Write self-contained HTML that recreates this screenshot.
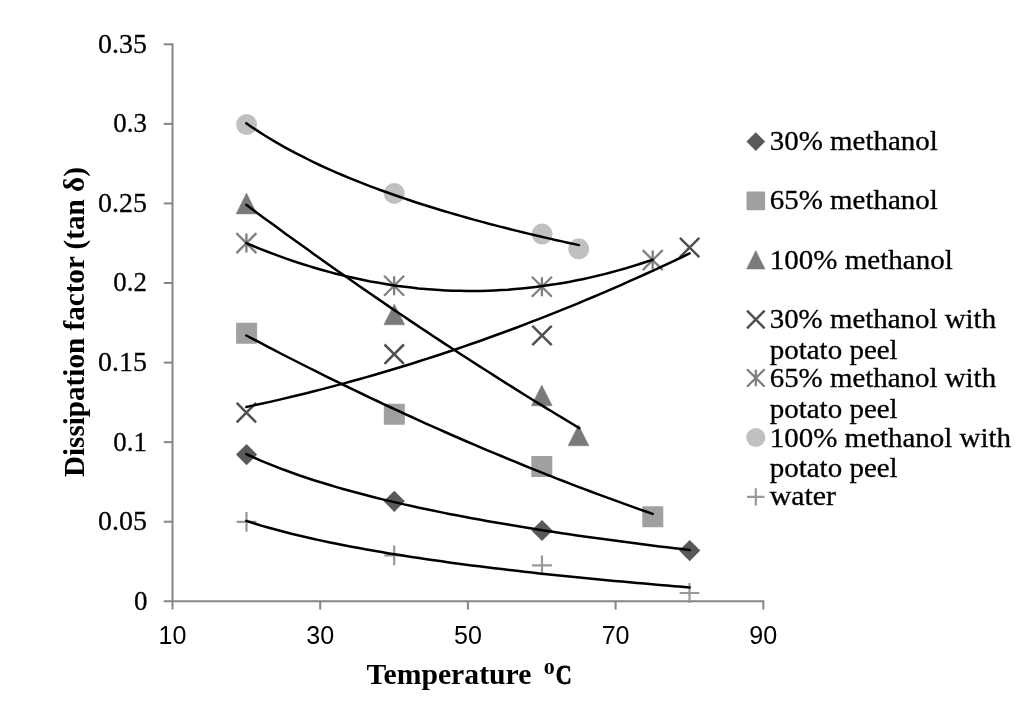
<!DOCTYPE html>
<html lang="en"><head><meta charset="utf-8"><title>Dissipation factor vs temperature</title>
<style>html,body{margin:0;padding:0;background:#fff}svg{display:block}.ser{font-family:"Liberation Serif",serif;fill:#000}.san{font-family:"Liberation Sans",sans-serif;fill:#000}</style></head><body>
<svg width="1024" height="711" viewBox="0 0 1024 711">
<rect width="1024" height="711" fill="#fff"/>
<g stroke="#868686" stroke-width="2" fill="none">
<path d="M172.5 43.3V609.6"/>
<path d="M163.8 601.3H764.3"/>
<path d="M163.8 521.73H172.5"/>
<path d="M163.8 442.16H172.5"/>
<path d="M163.8 362.59H172.5"/>
<path d="M163.8 283.02H172.5"/>
<path d="M163.8 203.45H172.5"/>
<path d="M163.8 123.88H172.5"/>
<path d="M163.8 44.31H172.5"/>
<path d="M320.20 601.3V609.6"/>
<path d="M467.90 601.3V609.6"/>
<path d="M615.60 601.3V609.6"/>
<path d="M763.30 601.3V609.6"/>
</g>
<text class="ser" x="147.5" y="610.1" font-size="27.8" text-anchor="end" stroke="#000" stroke-width="0.3" textLength="13.5" lengthAdjust="spacingAndGlyphs">0</text>
<text class="ser" x="146.9" y="530.1" font-size="27.8" text-anchor="end" stroke="#000" stroke-width="0.3" textLength="48.8" lengthAdjust="spacingAndGlyphs">0.05</text>
<text class="ser" x="146.9" y="450.5" font-size="27.8" text-anchor="end" stroke="#000" stroke-width="0.3" textLength="33.6" lengthAdjust="spacingAndGlyphs">0.1</text>
<text class="ser" x="146.9" y="370.9" font-size="27.8" text-anchor="end" stroke="#000" stroke-width="0.3" textLength="48.8" lengthAdjust="spacingAndGlyphs">0.15</text>
<text class="ser" x="146.9" y="291.4" font-size="27.8" text-anchor="end" stroke="#000" stroke-width="0.3" textLength="33.6" lengthAdjust="spacingAndGlyphs">0.2</text>
<text class="ser" x="146.9" y="211.8" font-size="27.8" text-anchor="end" stroke="#000" stroke-width="0.3" textLength="48.8" lengthAdjust="spacingAndGlyphs">0.25</text>
<text class="ser" x="146.9" y="132.2" font-size="27.8" text-anchor="end" stroke="#000" stroke-width="0.3" textLength="33.6" lengthAdjust="spacingAndGlyphs">0.3</text>
<text class="ser" x="146.9" y="52.7" font-size="27.8" text-anchor="end" stroke="#000" stroke-width="0.3" textLength="48.8" lengthAdjust="spacingAndGlyphs">0.35</text>
<text class="san" x="172.5" y="644.3" font-size="25.2" text-anchor="middle" textLength="27.9" lengthAdjust="spacingAndGlyphs">10</text>
<text class="san" x="320.2" y="644.3" font-size="25.2" text-anchor="middle" textLength="27.9" lengthAdjust="spacingAndGlyphs">30</text>
<text class="san" x="467.9" y="644.3" font-size="25.2" text-anchor="middle" textLength="27.9" lengthAdjust="spacingAndGlyphs">50</text>
<text class="san" x="615.6" y="644.3" font-size="25.2" text-anchor="middle" textLength="27.9" lengthAdjust="spacingAndGlyphs">70</text>
<text class="san" x="763.3" y="644.3" font-size="25.2" text-anchor="middle" textLength="27.9" lengthAdjust="spacingAndGlyphs">90</text>
<text class="ser" font-weight="bold" font-size="28.4" x="366.4" y="684" textLength="165" lengthAdjust="spacingAndGlyphs">Temperature</text>
<text class="ser" font-weight="bold" font-size="17.4" x="543.7" y="674.1" textLength="11" lengthAdjust="spacingAndGlyphs">0</text>
<text class="ser" font-weight="bold" font-size="27.2" x="555.7" y="683.7" textLength="16" stroke="#000" stroke-width="0.8" stroke-linejoin="round" lengthAdjust="spacingAndGlyphs">C</text>
<text class="ser" font-weight="bold" font-size="28.6" transform="translate(84 477.1) rotate(-90)" textLength="310" lengthAdjust="spacingAndGlyphs">Dissipation factor (tan δ)</text>
<path d="M246.6 444.0L257.2 454.6L246.6 465.20000000000005L236.0 454.6Z" fill="#595959"/>
<path d="M394.3 490.7L404.90000000000003 501.3L394.3 511.90000000000003L383.7 501.3Z" fill="#595959"/>
<path d="M542.0 519.9L552.6 530.5L542.0 541.1L531.4 530.5Z" fill="#595959"/>
<path d="M689.7 540.0L700.3000000000001 550.6L689.7 561.2L679.1 550.6Z" fill="#595959"/>
<rect x="236.1" y="322.8" width="21.0" height="21.0" fill="#a0a0a0" rx="0.8"/>
<rect x="383.8" y="403.8" width="21.0" height="21.0" fill="#a0a0a0" rx="0.8"/>
<rect x="531.3" y="456.0" width="21.0" height="21.0" fill="#a0a0a0" rx="0.8"/>
<rect x="642.3" y="506.29999999999995" width="21.0" height="21.0" fill="#a0a0a0" rx="0.8"/>
<path d="M246.5 193.1L256.9 213.9H236.1Z" fill="#7a7a7a" stroke="#7a7a7a" stroke-width="0.5" stroke-linejoin="round"/>
<path d="M394.3 304.0L404.7 324.79999999999995H383.90000000000003Z" fill="#7a7a7a" stroke="#7a7a7a" stroke-width="0.5" stroke-linejoin="round"/>
<path d="M541.8 385.0L552.1999999999999 405.79999999999995H531.4Z" fill="#7a7a7a" stroke="#7a7a7a" stroke-width="0.5" stroke-linejoin="round"/>
<path d="M578.5 425.0L588.9 445.79999999999995H568.1Z" fill="#7a7a7a" stroke="#7a7a7a" stroke-width="0.5" stroke-linejoin="round"/>
<path d="M236.70000000000002 402.90000000000003L256.1 422.3M236.70000000000002 422.3L256.1 402.90000000000003" stroke="#505050" stroke-width="2.5" fill="none"/>
<path d="M384.5 344.5L403.9 363.9M384.5 363.9L403.9 344.5" stroke="#505050" stroke-width="2.5" fill="none"/>
<path d="M532.3 325.8L551.7 345.2M532.3 345.2L551.7 325.8" stroke="#505050" stroke-width="2.5" fill="none"/>
<path d="M679.9 237.8L699.3000000000001 257.2M679.9 257.2L699.3000000000001 237.8" stroke="#505050" stroke-width="2.5" fill="none"/>
<path d="M236.4 233.1L256.4 253.1M236.4 253.1L256.4 233.1M246.4 233.6V252.6" stroke="#808080" stroke-width="2.3" fill="none"/>
<path d="M384.1 275.7L404.1 295.7M384.1 295.7L404.1 275.7M394.1 276.2V295.2" stroke="#808080" stroke-width="2.3" fill="none"/>
<path d="M531.9 276.7L551.9 296.7M531.9 296.7L551.9 276.7M541.9 277.2V296.2" stroke="#808080" stroke-width="2.3" fill="none"/>
<path d="M642.7 250.10000000000002L662.7 270.1M642.7 270.1L662.7 250.10000000000002M652.7 250.60000000000002V269.6" stroke="#808080" stroke-width="2.3" fill="none"/>
<circle cx="246.6" cy="124.6" r="10.5" fill="#c0c0c0"/>
<circle cx="394.3" cy="193.4" r="10.5" fill="#c0c0c0"/>
<circle cx="542.1" cy="234.1" r="10.5" fill="#c0c0c0"/>
<circle cx="578.7" cy="248.8" r="10.5" fill="#c0c0c0"/>
<path d="M236.6 521.9H256.4M246.5 512.0V531.8" stroke="#989898" stroke-width="2.2" fill="none"/>
<path d="M384.3 555.3H404.09999999999997M394.2 545.4V565.1999999999999" stroke="#989898" stroke-width="2.2" fill="none"/>
<path d="M532.1 565.4H551.9M542.0 555.5V575.3" stroke="#989898" stroke-width="2.2" fill="none"/>
<path d="M679.6 593.0H699.4M689.5 583.1V602.9" stroke="#989898" stroke-width="2.2" fill="none"/>
<g stroke="#000" stroke-width="2.5" fill="none" stroke-linecap="round" stroke-linejoin="round">
<path d="M246.3 123.3L251.9 127.2L257.6 130.9L263.2 134.5L268.9 138.0L274.5 141.4L280.1 144.6L285.8 147.8L291.4 150.9L297.1 153.8L302.7 156.7L308.3 159.5L314.0 162.3L319.6 165.0L325.2 167.6L330.9 170.1L336.5 172.6L342.2 175.0L347.8 177.4L353.4 179.7L359.1 181.9L364.7 184.1L370.4 186.3L376.0 188.4L381.6 190.5L387.3 192.5L392.9 194.5L398.6 196.5L404.2 198.4L409.8 200.3L415.5 202.2L421.1 204.0L426.7 205.8L432.4 207.5L438.0 209.3L443.7 211.0L449.3 212.6L454.9 214.3L460.6 215.9L466.2 217.5L471.9 219.1L477.5 220.6L483.1 222.1L488.8 223.7L494.4 225.1L500.1 226.6L505.7 228.0L511.3 229.5L517.0 230.9L522.6 232.2L528.2 233.6L533.9 235.0L539.5 236.3L545.2 237.6L550.8 238.9L556.4 240.2L562.1 241.4L567.7 242.7L573.4 243.9L579.0 245.1"/>
<path d="M246.3 204.8L251.9 209.0L257.6 213.2L263.2 217.4L268.9 221.5L274.5 225.6L280.2 229.8L285.8 233.9L291.5 238.0L297.1 242.0L302.7 246.1L308.4 250.1L314.0 254.2L319.7 258.2L325.3 262.2L331.0 266.2L336.6 270.2L342.2 274.1L347.9 278.1L353.5 282.0L359.2 286.0L364.8 289.9L370.5 293.8L376.1 297.6L381.8 301.5L387.4 305.4L393.0 309.2L398.7 313.0L404.3 316.8L410.0 320.6L415.6 324.4L421.3 328.2L426.9 331.9L432.6 335.7L438.2 339.4L443.8 343.1L449.5 346.8L455.1 350.5L460.8 354.2L466.4 357.8L472.1 361.5L477.7 365.1L483.4 368.7L489.0 372.3L494.6 375.9L500.3 379.5L505.9 383.1L511.6 386.6L517.2 390.1L522.9 393.7L528.5 397.2L534.1 400.7L539.8 404.1L545.4 407.6L551.1 411.0L556.7 414.5L562.4 417.9L568.0 421.3L573.7 424.7L579.3 428.1"/>
<path d="M246.3 243.1L253.2 246.0L260.1 248.8L267.0 251.5L273.9 254.2L280.7 256.7L287.6 259.1L294.5 261.5L301.4 263.7L308.3 265.9L315.2 268.0L322.1 270.0L329.0 271.9L335.8 273.7L342.7 275.4L349.6 277.0L356.5 278.5L363.4 280.0L370.3 281.4L377.2 282.6L384.1 283.8L391.0 284.9L397.8 285.9L404.7 286.8L411.6 287.6L418.5 288.4L425.4 289.0L432.3 289.5L439.2 290.0L446.1 290.4L452.9 290.7L459.8 290.8L466.7 290.9L473.6 291.0L480.5 290.9L487.4 290.7L494.3 290.4L501.2 290.1L508.0 289.7L514.9 289.1L521.8 288.5L528.7 287.8L535.6 287.0L542.5 286.1L549.4 285.1L556.3 284.1L563.2 282.9L570.0 281.7L576.9 280.3L583.8 278.9L590.7 277.4L597.6 275.8L604.5 274.1L611.4 272.3L618.3 270.4L625.1 268.5L632.0 266.4L638.9 264.3L645.8 262.0L652.7 259.7"/>
<path d="M246.3 335.5L253.2 339.1L260.1 342.7L267.0 346.3L273.9 349.9L280.7 353.5L287.6 357.0L294.5 360.5L301.4 364.0L308.3 367.5L315.2 370.9L322.1 374.4L329.0 377.8L335.8 381.2L342.7 384.5L349.6 387.9L356.5 391.2L363.4 394.5L370.3 397.8L377.2 401.0L384.1 404.3L391.0 407.5L397.8 410.7L404.7 413.9L411.6 417.0L418.5 420.1L425.4 423.3L432.3 426.3L439.2 429.4L446.1 432.5L452.9 435.5L459.8 438.5L466.7 441.5L473.6 444.4L480.5 447.4L487.4 450.3L494.3 453.2L501.2 456.0L508.0 458.9L514.9 461.7L521.8 464.5L528.7 467.3L535.6 470.1L542.5 472.8L549.4 475.6L556.3 478.3L563.2 481.0L570.0 483.6L576.9 486.3L583.8 488.9L590.7 491.5L597.6 494.1L604.5 496.6L611.4 499.1L618.3 501.7L625.1 504.1L632.0 506.6L638.9 509.1L645.8 511.5L652.7 513.9"/>
<path d="M246.3 407.0L253.8 405.4L261.3 403.8L268.8 402.1L276.4 400.4L283.9 398.6L291.4 396.8L298.9 395.0L306.4 393.2L313.9 391.3L321.4 389.4L328.9 387.4L336.5 385.4L344.0 383.4L351.5 381.3L359.0 379.3L366.5 377.1L374.0 375.0L381.5 372.8L389.1 370.5L396.6 368.3L404.1 366.0L411.6 363.7L419.1 361.3L426.6 358.9L434.1 356.5L441.7 354.0L449.2 351.5L456.7 349.0L464.2 346.4L471.7 343.8L479.2 341.2L486.7 338.5L494.2 335.8L501.8 333.0L509.3 330.3L516.8 327.5L524.3 324.6L531.8 321.7L539.3 318.8L546.8 315.9L554.4 312.9L561.9 309.9L569.4 306.8L576.9 303.8L584.4 300.6L591.9 297.5L599.4 294.3L607.0 291.1L614.5 287.8L622.0 284.6L629.5 281.2L637.0 277.9L644.5 274.5L652.0 271.1L659.5 267.6L667.1 264.1L674.6 260.6L682.1 257.0L689.6 253.4"/>
<path d="M246.3 454.1L253.8 457.5L261.3 460.8L268.8 463.9L276.4 466.9L283.9 469.8L291.4 472.5L298.9 475.2L306.4 477.7L313.9 480.2L321.4 482.5L328.9 484.8L336.5 487.1L344.0 489.2L351.5 491.3L359.0 493.3L366.5 495.3L374.0 497.2L381.5 499.1L389.1 500.9L396.6 502.6L404.1 504.4L411.6 506.0L419.1 507.7L426.6 509.3L434.1 510.8L441.7 512.4L449.2 513.9L456.7 515.3L464.2 516.8L471.7 518.2L479.2 519.6L486.7 520.9L494.2 522.2L501.8 523.5L509.3 524.8L516.8 526.1L524.3 527.3L531.8 528.5L539.3 529.7L546.8 530.9L554.4 532.0L561.9 533.2L569.4 534.3L576.9 535.4L584.4 536.4L591.9 537.5L599.4 538.5L607.0 539.6L614.5 540.6L622.0 541.6L629.5 542.6L637.0 543.5L644.5 544.5L652.0 545.5L659.5 546.4L667.1 547.3L674.6 548.2L682.1 549.1L689.6 550.0"/>
<path d="M246.3 520.9L253.8 523.3L261.3 525.6L268.8 527.7L276.4 529.8L283.9 531.8L291.4 533.7L298.9 535.5L306.4 537.3L313.9 539.0L321.4 540.6L328.9 542.2L336.5 543.8L344.0 545.3L351.5 546.7L359.0 548.1L366.5 549.5L374.0 550.8L381.5 552.1L389.1 553.4L396.6 554.6L404.1 555.8L411.6 556.9L419.1 558.1L426.6 559.2L434.1 560.3L441.7 561.3L449.2 562.4L456.7 563.4L464.2 564.4L471.7 565.4L479.2 566.3L486.7 567.3L494.2 568.2L501.8 569.1L509.3 570.0L516.8 570.8L524.3 571.7L531.8 572.5L539.3 573.4L546.8 574.2L554.4 575.0L561.9 575.7L569.4 576.5L576.9 577.3L584.4 578.0L591.9 578.8L599.4 579.5L607.0 580.2L614.5 580.9L622.0 581.6L629.5 582.3L637.0 583.0L644.5 583.6L652.0 584.3L659.5 584.9L667.1 585.6L674.6 586.2L682.1 586.8L689.6 587.4"/>
</g>
<path d="M755.8 132.29999999999998L765.0999999999999 141.6L755.8 150.9L746.5 141.6Z" fill="#595959"/>
<text class="ser" x="769.7" y="149.6" font-size="27.3" stroke="#000" stroke-width="0.3" textLength="168.1" lengthAdjust="spacingAndGlyphs">30% methanol</text>
<rect x="746.5" y="191.6" width="18.6" height="18.6" fill="#a0a0a0" rx="0.8"/>
<text class="ser" x="769.7" y="209.3" font-size="27.3" stroke="#000" stroke-width="0.3" textLength="168.1" lengthAdjust="spacingAndGlyphs">65% methanol</text>
<path d="M755.8 250.60000000000002L765.0 269.0H746.5999999999999Z" fill="#7a7a7a" stroke="#7a7a7a" stroke-width="0.5" stroke-linejoin="round"/>
<text class="ser" x="769.7" y="268.8" font-size="27.3" stroke="#000" stroke-width="0.3" textLength="183.1" lengthAdjust="spacingAndGlyphs">100% methanol</text>
<path d="M747.0 310.7L764.5999999999999 328.3M747.0 328.3L764.5999999999999 310.7" stroke="#505050" stroke-width="2.5" fill="none"/>
<text class="ser" x="769.7" y="328.1" font-size="27.3" stroke="#000" stroke-width="0.3" textLength="226.4" lengthAdjust="spacingAndGlyphs">30% methanol with</text>
<text class="ser" x="769.7" y="358.9" font-size="27.3" stroke="#000" stroke-width="0.3" textLength="128.0" lengthAdjust="spacingAndGlyphs">potato peel</text>
<path d="M747.0 369.2L764.5999999999999 386.8M747.0 386.8L764.5999999999999 369.2M755.8 369.7V386.3" stroke="#808080" stroke-width="2.3" fill="none"/>
<text class="ser" x="769.7" y="386.7" font-size="27.3" stroke="#000" stroke-width="0.3" textLength="226.4" lengthAdjust="spacingAndGlyphs">65% methanol with</text>
<text class="ser" x="769.7" y="418.3" font-size="27.3" stroke="#000" stroke-width="0.3" textLength="128.0" lengthAdjust="spacingAndGlyphs">potato peel</text>
<circle cx="755.8" cy="437.5" r="9.5" fill="#c0c0c0"/>
<text class="ser" x="769.7" y="446.7" font-size="27.3" stroke="#000" stroke-width="0.3" textLength="241.4" lengthAdjust="spacingAndGlyphs">100% methanol with</text>
<text class="ser" x="769.7" y="477.4" font-size="27.3" stroke="#000" stroke-width="0.3" textLength="128.0" lengthAdjust="spacingAndGlyphs">potato peel</text>
<path d="M747.0999999999999 496.9H764.5M755.8 488.2V505.59999999999997" stroke="#989898" stroke-width="2.2" fill="none"/>
<text class="ser" x="769.7" y="505.3" font-size="27.3" stroke="#000" stroke-width="0.3" textLength="66.4" lengthAdjust="spacingAndGlyphs">water</text>
</svg></body></html>
